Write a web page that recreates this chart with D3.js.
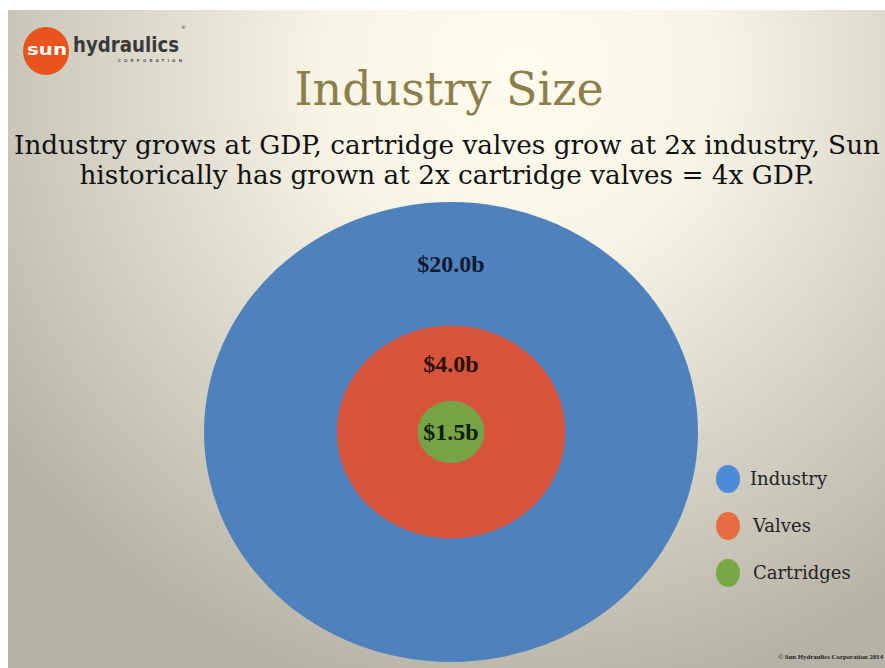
<!DOCTYPE html>
<html>
<head>
<meta charset="utf-8">
<script src="https://cdn.jsdelivr.net/npm/d3@7"></script>
<style>
  html, body { margin: 0; padding: 0; background: #fff; }
  svg { display: block; }
</style>
</head>
<body>
<svg id="chart"></svg>
<script>
'use strict';

var WIDTH = 885;
var HEIGHT = 668;

// market size, $ billions
var segments = ["Industry", "Valves", "Cartridges"];
var sizes = [20.0, 4.0, 1.5];
var sizeLabels = ["$20.0b", "$4.0b", "$1.5b"];

var titleText = "Industry Size";
var subtitleLines = [
  "Industry grows at GDP, cartridge valves grow at 2x industry, Sun",
  "historically has grown at 2x cartridge valves = 4x GDP."
];
var copyrightText = "\u00a9 Sun Hydraulics Corporation 2014";

var SERIF = "'DejaVu Serif', 'Liberation Serif', serif";
var TSERIF = "'Liberation Serif', 'DejaVu Serif', serif";
var SANS = "'DejaVu Sans', sans-serif";

var CX = 451, CY = 432;

var color = d3.scaleOrdinal()
.domain(segments)
.range(["#4f81bd", "#d6543c", "#77a346"]);

var legendColor = d3.scaleOrdinal()
.domain(segments)
.range(["#4c8bd8", "#e86d45", "#79a847"]);

var labelColor = d3.scaleOrdinal()
.domain(segments)
.range(["#0f1a33", "#2a0f0a", "#0f1f0a"]);

// circle sizes grow with log of the value (slide is stretched a bit wider than tall)
var rx = d3.scaleLog().domain([1, 20]).range([0, 247]);
var ry = d3.scaleLog().domain([1, 20]).range([0, 230]);

var svg = d3.select("#chart")
.attr("width", WIDTH)
.attr("height", HEIGHT);

var defs = svg.append("defs");
var bg = defs.append("radialGradient")
.attr("id", "bg")
.attr("gradientUnits", "userSpaceOnUse")
.attr("cx", 520).attr("cy", 70).attr("r", 640);
bg.append("stop").attr("offset", 0).attr("stop-color", "#fffcee");
bg.append("stop").attr("offset", 0.3).attr("stop-color", "#f8f5e6");
bg.append("stop").attr("offset", 0.62).attr("stop-color", "#d9d7ca");
bg.append("stop").attr("offset", 1).attr("stop-color", "#b6b3a6");

svg.append("rect")
.attr("x", 8).attr("y", 10)
.attr("width", WIDTH - 8).attr("height", HEIGHT - 10)
.attr("fill", "url(#bg)");

// logo
var logo = svg.append("g").attr("font-family", SANS).attr("font-weight", "bold");
logo.append("ellipse")
.attr("cx", 46).attr("cy", 51).attr("rx", 23).attr("ry", 24)
.attr("fill", "#e8541c");
logo.append("text")
.attr("x", 47).attr("y", 55)
.attr("text-anchor", "middle")
.attr("font-size", 16)
.attr("textLength", 40).attr("lengthAdjust", "spacingAndGlyphs")
.attr("fill", "#fff")
.text("sun");
logo.append("text")
.attr("x", 73).attr("y", 52)
.attr("font-size", 22)
.attr("textLength", 106).attr("lengthAdjust", "spacingAndGlyphs")
.attr("fill", "#3a3a3a")
.text("hydraulics");
logo.append("text")
.attr("x", 118).attr("y", 62)
.attr("font-size", 4)
.attr("textLength", 64).attr("lengthAdjust", "spacing")
.attr("fill", "#555")
.text("CORPORATION");
logo.append("text")
.attr("x", 181).attr("y", 29)
.attr("font-weight", "normal")
.attr("font-size", 5)
.attr("fill", "#555")
.text("\u00ae");

// title + subtitle
svg.append("text")
.attr("x", 449).attr("y", 105)
.attr("text-anchor", "middle")
.attr("font-family", SERIF)
.attr("font-size", 46)
.attr("fill", "#8c7f4c")
.text(titleText);

svg.selectAll("text.sub")
.data(subtitleLines)
.enter().append("text")
.attr("class", "sub")
.attr("x", 447)
.attr("y", function(d, i){ return 154 + i*30; })
.attr("text-anchor", "middle")
.attr("font-family", SERIF)
.attr("font-size", 26.3)
.attr("fill", "#111")
.text(function(d){ return d; });

// nested circles
var data = segments.map(function(s, i){
  return {name: s, value: sizes[i], label: sizeLabels[i]};
});

svg.selectAll("ellipse.seg")
.data(data)
.enter().append("ellipse")
.attr("class", "seg")
.attr("cx", CX).attr("cy", CY)
.attr("rx", function(d){ return rx(d.value); })
.attr("ry", function(d){ return ry(d.value); })
.attr("fill", function(d){ return color(d.name); });

// label sits midway between this circle's top and the next inner circle's top
svg.selectAll("text.val")
.data(data)
.enter().append("text")
.attr("class", "val")
.attr("x", CX)
.attr("y", function(d, i){
  if (i === data.length - 1) return CY;
  var top = CY - ry(d.value);
  var inner = CY - ry(data[i+1].value);
  return (top + inner) / 2;
})
.attr("dy", "0.35em")
.attr("text-anchor", "middle")
.attr("font-family", TSERIF)
.attr("font-size", 24)
.attr("font-weight", "bold")
.attr("fill", function(d){ return labelColor(d.name); })
.text(function(d){ return d.label; });

// legend
var legend = svg.selectAll("g.legend")
.data(segments)
.enter().append("g")
.attr("class", "legend")
.attr("transform", function(d, i){ return "translate(728," + (479 + i*47) + ")"; });

legend.append("ellipse")
.attr("rx", 12).attr("ry", 14)
.attr("fill", function(d){ return legendColor(d); });

legend.append("text")
.attr("x", function(d, i){ return i === 0 ? 22 : 25; })
.attr("y", 6)
.attr("font-family", SERIF)
.attr("font-size", 18)
.attr("fill", "#222")
.text(function(d){ return d; });

svg.append("text")
.attr("x", 778).attr("y", 659)
.attr("font-family", TSERIF)
.attr("font-size", 6.8)
.attr("font-weight", "bold")
.attr("fill", "#222")
.text(copyrightText);
</script>
</body>
</html>
